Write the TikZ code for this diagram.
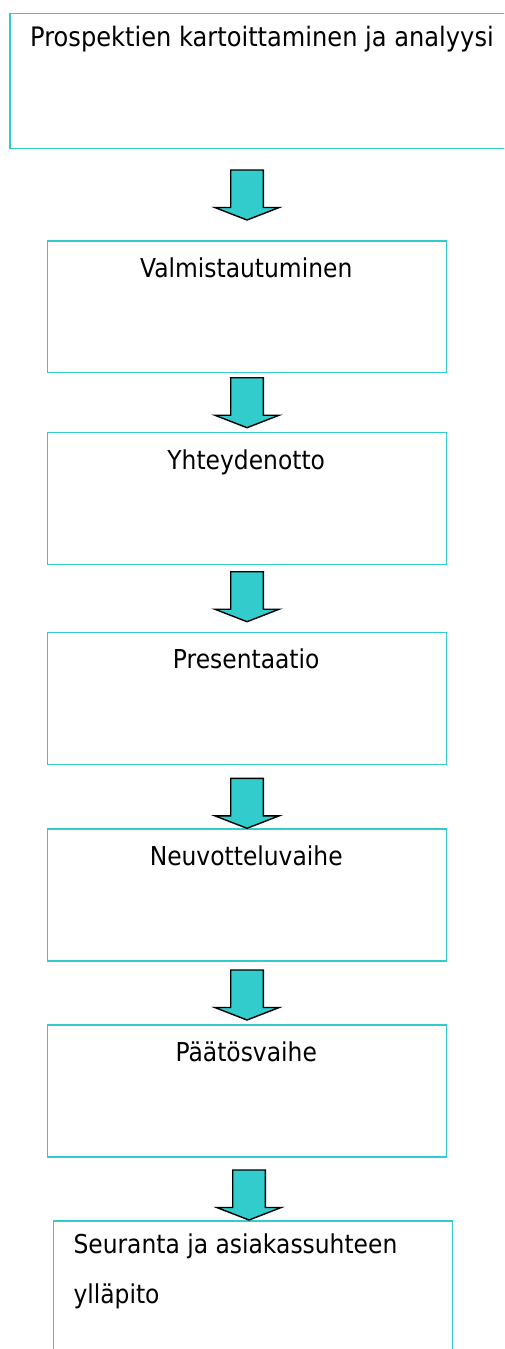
\documentclass[tikz,border=0pt]{standalone}
\usepackage{fontspec}
\setmainfont{DejaVu Sans}[FakeStretch=0.9]
\definecolor{stageline}{HTML}{33CCCC}
\definecolor{arrowfill}{HTML}{33CCCC}
\tikzset{
  stage/.style={draw=stageline, line width=1.6pt, rectangle, inner sep=0pt, anchor=north west},
  steptext/.style={inner sep=0pt, font=\fontsize{26}{50}\selectfont},
  arrowbody/.style={draw=black, fill=arrowfill, line width=1.4pt, line join=miter},
  blockarrow/.pic={
    \draw[arrowbody] (-16.3,0) -- (16.3,0) -- (16.3,37.5) -- (32.2,37.5)
      -- (0,50) -- (-32.2,37.5) -- (-16.3,37.5) -- cycle;
  }
}
\begin{document}
\begin{tikzpicture}[x=1pt,y=-1pt]
\useasboundingbox (0,0) rectangle (504,1349);
\clip (0,0) rectangle (504,1349);

% stage boxes
\node[stage, minimum width=510pt, minimum height=135pt] (s1) at (9,12.6) {};
\node[stage, minimum width=399pt, minimum height=131.7pt] (s2) at (46.7,240) {};
\node[stage, minimum width=399pt, minimum height=132pt] (s3) at (46.7,431.7) {};
\node[stage, minimum width=399pt, minimum height=132pt] (s4) at (46.7,631.7) {};
\node[stage, minimum width=399pt, minimum height=131.7pt] (s5) at (46.7,828.3) {};
\node[stage, minimum width=399pt, minimum height=131.7pt] (s6) at (46.7,1024.3) {};
\node[stage, minimum width=399pt, minimum height=150pt] (s7) at (52.7,1220) {};

% stage titles
\node[steptext, anchor=base west, font=\fontsize{26.8}{50}\selectfont] (t1) at (30,46.7) {Prospektien kartoittaminen ja analyysi};
\node[steptext, anchor=base] (t2) at (246.2,277.3) {Valmistautuminen};
\node[steptext, anchor=base] (t3) at (246.2,469.3) {Yhteydenotto};
\node[steptext, anchor=base] (t4) at (246.2,668.7) {Presentaatio};
\node[steptext, anchor=base] (t5) at (246.2,865) {Neuvotteluvaihe};
\node[steptext, anchor=base] (t6) at (246.2,1061.3) {Päätösvaihe};
\node[steptext, anchor=base west] (t7a) at (73.3,1253.3) {Seuranta ja asiakassuhteen};
\node[steptext, anchor=base west] (t7b) at (73.3,1303.3) {ylläpito};

% block arrows between the stages
\coordinate (a1) at (247,170);
\coordinate (a2) at (247,377.7);
\coordinate (a3) at (247,571.7);
\coordinate (a4) at (247,778.3);
\coordinate (a5) at (247,970);
\coordinate (a6) at (249,1170);
\foreach \a in {a1,a2,a3,a4,a5,a6}
  \pic at (\a) {blockarrow};
\end{tikzpicture}
\end{document}
